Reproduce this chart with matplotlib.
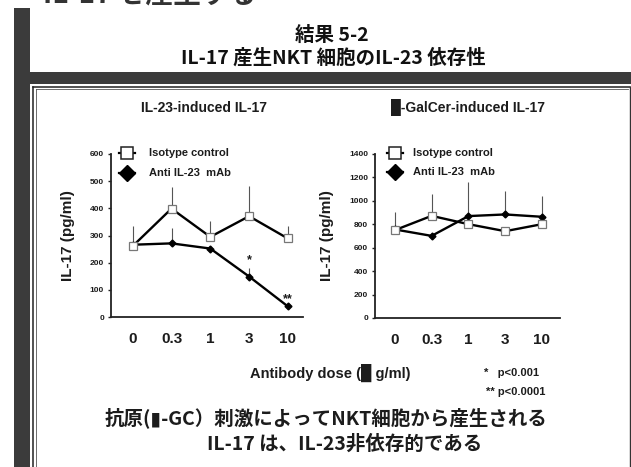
import matplotlib
matplotlib.use("Agg")
import matplotlib.pyplot as plt
from matplotlib.lines import Line2D
from matplotlib.patches import Rectangle

# ---------------- data ----------------
doses = ["0", "0.3", "1", "3", "10"]

il23_iso = [261, 399, 295, 371, 289]
il23_iso_err = [73, 81, 58, 113, 45]
il23_anti = [266, 271, 252, 149, 39]
il23_anti_err = [0, 55, 0, 31, 0]
il23_sig = ["", "", "", "*", "**"]

agc_iso = [750, 872, 801, 741, 801]
agc_iso_err = [157, 186, 0, 0, 0]
agc_anti = [756, 701, 870, 884, 864]
agc_anti_err = [0, 0, 293, 199, 180]

il23_yticks = [0, 100, 200, 300, 400, 500, 600]
agc_yticks = [0, 200, 400, 600, 800, 1000, 1200, 1400]

W, H = 631, 467
LAT = ["Liberation Sans", "DejaVu Sans"]
JP = ["Noto Sans CJK JP", "DejaVu Sans"]
TXT = "#1c1c1c"
BLK = "\u2588"   # glyph shown in place of the Greek letter (Latin texts)
BLK_JP = "\u25ae"  # same, in the Japanese line

fig = plt.figure(figsize=(W / 100, H / 100), dpi=100)
fig.patch.set_facecolor("white")


def fx(x):
    return x / W


def fy(y):
    return 1 - y / H


def ftext(x, y, s, **kw):
    return fig.text(fx(x), fy(y), s, transform=fig.transFigure, **kw)


# ---------------- slide decoration ----------------
bar_col = "#3b3b3b"
fig.add_artist(Rectangle((fx(14), fy(H + 5)), fx(16), fy(8) - fy(H + 5),
                         transform=fig.transFigure, facecolor=bar_col, edgecolor="none"))
fig.add_artist(Rectangle((fx(14), fy(84)), fx(W - 14 + 5), fy(72) - fy(84),
                         transform=fig.transFigure, facecolor=bar_col, edgecolor="none"))
# box (double line)
fig.add_artist(Line2D([fx(33), fx(33)], [fy(86.5), fy(H + 5)], transform=fig.transFigure,
                      color="#222222", lw=1.1))
fig.add_artist(Line2D([fx(33), fx(630)], [fy(86.5), fy(86.5)], transform=fig.transFigure,
                      color="#222222", lw=1.1))
fig.add_artist(Line2D([fx(36), fx(36)], [fy(89), fy(H + 5)], transform=fig.transFigure,
                      color="#555555", lw=0.6))
fig.add_artist(Line2D([fx(36), fx(628)], [fy(89), fy(89)], transform=fig.transFigure,
                      color="#555555", lw=0.6))
fig.add_artist(Line2D([fx(630), fx(630)], [fy(86.5), fy(H + 5)], transform=fig.transFigure,
                      color="#333333", lw=1.0))

# heading of the previous slide, cut by the top edge as in the scan
ftext(150, 4, "IL-17 を産生する", family=JP, fontsize=20, fontweight="bold",
      ha="center", va="baseline", color="#333333")

# titles
ftext(332, 35, "結果 5-2", family=JP, fontsize=14, fontweight="bold",
      ha="center", va="center", color="#111111")
ftext(333, 58, "IL-17 産生NKT 細胞のIL-23 依存性", family=JP, fontsize=14,
      fontweight="bold", ha="center", va="center", color="#111111")

# ---------------- axes ----------------
ax1 = fig.add_axes([fx(111), fy(317), fx(303) - fx(111), fy(154) - fy(317)])
ax2 = fig.add_axes([fx(375), fy(318), fx(560) - fx(375), fy(154) - fy(318)])


def draw(ax, iso, iso_err, anti, anti_err, yticks, xlim):
    xs = list(range(len(doses)))
    ax.vlines(xs, iso, [v + e for v, e in zip(iso, iso_err)], color="#555555", lw=0.8, zorder=1)
    ax.vlines(xs, anti, [v + e for v, e in zip(anti, anti_err)], color="#555555", lw=0.8, zorder=1)
    ax.plot(xs, anti, color="black", lw=1.7, marker="D", ms=3.5, mfc="black", mec="black", zorder=2)
    ax.plot(xs, iso, color="black", lw=1.7, marker="s", ms=6, mfc="white", mec="#777777",
            mew=0.9, zorder=3)
    ax.set_xlim(*xlim)
    ax.set_ylim(yticks[0], yticks[-1])
    ax.set_xticks(xs)
    ax.set_xticklabels(doses, family=LAT, fontsize=11, fontweight="bold", color=TXT)
    ax.set_yticks(yticks)
    ax.set_yticklabels([str(t) for t in yticks], family=LAT, fontsize=6, fontweight="bold", color=TXT)
    ax.tick_params(axis="x", length=0, pad=11)
    ax.tick_params(axis="y", length=2.5, width=1, pad=2.5, color="#222222")
    for s in ("top", "right"):
        ax.spines[s].set_visible(False)
    for s in ("left", "bottom"):
        ax.spines[s].set_linewidth(1.3)
        ax.spines[s].set_color("#222222")
    ax.set_facecolor("none")
    ax.set_ylabel("IL-17 (pg/ml)", family=LAT, fontsize=11, fontweight="bold", color=TXT)


draw(ax1, il23_iso, il23_iso_err, il23_anti, il23_anti_err, il23_yticks, (-0.56, 4.39))
draw(ax2, agc_iso, agc_iso_err, agc_anti, agc_anti_err, agc_yticks, (-0.54, 4.49))
ax1.yaxis.set_label_coords((75 - 111) / 192, 0.5)
ax2.yaxis.set_label_coords((334 - 375) / 185, 0.5)

for i, s in enumerate(il23_sig):
    if s:
        ax1.text(i, il23_anti[i] + il23_anti_err[i] + 6, s, ha="center", va="bottom",
                 family=LAT, fontsize=9, fontweight="bold", color=TXT)

# panel titles
ftext(204, 108, "IL-23-induced IL-17", family=LAT, fontsize=10, fontweight="bold",
      ha="center", va="center", color=TXT)
ftext(468, 108, BLK + "-GalCer-induced IL-17", family=LAT, fontsize=10, fontweight="bold",
      ha="center", va="center", color=TXT)


# legends
def legend(x0, xtext, y_iso, y_anti):
    fig.add_artist(Line2D([fx(x0 - 8), fx(x0 + 8)], [fy(y_iso), fy(y_iso)],
                          transform=fig.transFigure, color="black", lw=1.6))
    fig.add_artist(Line2D([fx(x0)], [fy(y_iso)], transform=fig.transFigure, marker="s",
                          ms=8, mfc="white", mec="#222222", mew=1.1, ls="none"))
    fig.add_artist(Line2D([fx(x0 - 8), fx(x0 + 8)], [fy(y_anti), fy(y_anti)],
                          transform=fig.transFigure, color="black", lw=1.6))
    fig.add_artist(Line2D([fx(x0)], [fy(y_anti)], transform=fig.transFigure, marker="D",
                          ms=8, mfc="black", mec="black", ls="none"))
    ftext(xtext, y_iso, "Isotype control", family=LAT, fontsize=8, fontweight="bold",
          ha="left", va="center", color=TXT)
    ftext(xtext, y_anti, "Anti IL-23  mAb", family=LAT, fontsize=8, fontweight="bold",
          ha="left", va="center", color=TXT)


legend(127, 149, 153, 173)
legend(395, 413, 153, 172)

# bottom texts
ftext(330, 373, "Antibody dose (" + BLK + " g/ml)", family=LAT, fontsize=10.5, fontweight="bold",
      ha="center", va="center", color=TXT)
ftext(484, 373, "*   p<0.001", family=LAT, fontsize=8, fontweight="bold",
      ha="left", va="center", color=TXT)
ftext(486, 392, "** p<0.0001", family=LAT, fontsize=8, fontweight="bold",
      ha="left", va="center", color=TXT)

ftext(326, 418, "抗原(" + BLK_JP + "-GC）刺激によってNKT細胞から産生される", family=JP, fontsize=14,
      fontweight="bold", ha="center", va="center", color=TXT)
ftext(345, 444, "IL-17 は、IL-23非依存的である", family=JP, fontsize=14,
      fontweight="bold", ha="center", va="center", color=TXT)

fig.savefig("out.png", dpi=100)
